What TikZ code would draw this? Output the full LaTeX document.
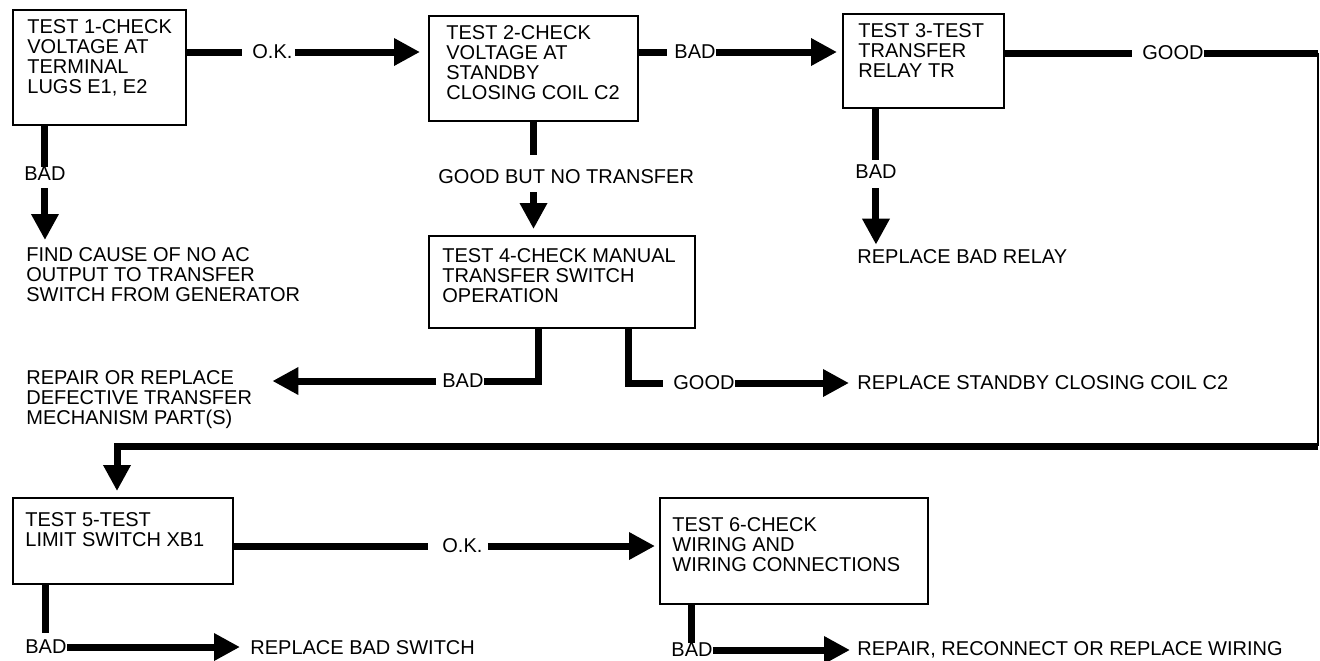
\documentclass[tikz,border=0pt]{standalone}
\usepackage{fontspec}
\setmainfont{Liberation Sans}
\usetikzlibrary{arrows.meta}
\newcommand{\labfont}{\fontsize{10}{10}\selectfont}
\begin{document}
\begin{tikzpicture}[x=0.5pt,y=-0.5pt,
  box/.style={draw, line width=1pt, anchor=north west, inner sep=0pt},
  txt/.style={font=\labfont, inner sep=0pt, align=left, anchor=north west},
  lbl/.style={font=\labfont, inner sep=0pt, text depth=0pt, anchor=west},
  conn/.style={line width=3.5pt},
  arr/.style={line width=3.5pt, -{Triangle[length=13pt,width=13pt]}},
  thinline/.style={line width=1pt}]
\useasboundingbox (0,0) rectangle (1320,660);

% boxes
\node[box, minimum width=86.5pt, minimum height=57.5pt] (b1) at (12,9) {};
\node[box, minimum width=104.5pt, minimum height=52.5pt] (b2) at (428,15) {};
\node[box, minimum width=80.5pt, minimum height=47pt] (b3) at (842,13) {};
\node[box, minimum width=133pt, minimum height=46pt] (b4) at (428,235) {};
\node[box, minimum width=110pt, minimum height=43pt] (b5) at (12,497) {};
\node[box, minimum width=134pt, minimum height=53pt] (b6) at (659,497) {};

% box texts
\node[txt] (t1) at (27,19) {TEST 1-CHECK\\VOLTAGE AT\\TERMINAL\\LUGS E1, E2};
\node[txt] (t2) at (446,25) {TEST 2-CHECK\\VOLTAGE AT\\STANDBY\\CLOSING COIL C2};
\node[txt] (t3) at (858,23) {TEST 3-TEST\\TRANSFER\\RELAY TR};
\node[txt] (t4) at (442,248) {TEST 4-CHECK MANUAL\\TRANSFER SWITCH\\OPERATION};
\node[txt] (t5) at (25,512) {TEST 5-TEST\\LIMIT SWITCH XB1};
\node[txt] (t6) at (672,517) {TEST 6-CHECK\\WIRING AND\\WIRING CONNECTIONS};

% results
\node[txt] (r1) at (26,247) {FIND CAUSE OF NO AC\\OUTPUT TO TRANSFER\\SWITCH FROM GENERATOR};
\node[lbl] (r3) at (857,257) {REPLACE BAD RELAY};
\node[txt] (r4bad) at (26,370) {REPAIR OR REPLACE\\DEFECTIVE TRANSFER\\MECHANISM PART(S)};
\node[lbl] (r4good) at (857,383) {REPLACE STANDBY CLOSING COIL C2};
\node[lbl] (r5) at (250,647) {REPLACE BAD SWITCH};
\node[lbl] (r6) at (857,648) {REPAIR, RECONNECT OR REPLACE WIRING};

% connector labels
\node[lbl] (ok1) at (252,52) {O.K.};
\node[lbl] (bad2) at (674,52) {BAD};
\node[lbl] (good3) at (1142,53) {GOOD};
\node[lbl] (bad1) at (24,174) {BAD};
\node[lbl] (gbnt) at (438,177) {GOOD BUT NO TRANSFER};
\node[lbl] (bad3) at (855,172) {BAD};
\node[lbl] (bad4) at (442,381) {BAD};
\node[lbl] (good4) at (673,383) {GOOD};
\node[lbl] (ok5) at (442,546) {O.K.};
\node[lbl] (bad5) at (25,647) {BAD};
\node[lbl] (bad6) at (671,650) {BAD};

% test 1
\draw[conn] (ok1 -| b1.east) -- ([xshift=-5pt]ok1.west);
\draw[arr] ([xshift=1pt]ok1.east) -- ([xshift=-4pt]ok1 -| b2.west);
\draw[conn] (bad1.north |- b1.south) -- (bad1.north);
\draw[arr] ([yshift=-3.5pt]bad1.south) -- ([yshift=3.5pt]bad1.south |- r1.north);

% test 2
\draw[conn] (bad2 -| b2.east) -- ([xshift=-3.5pt]bad2.west);
\draw[arr] (bad2.east) -- ([xshift=-2.5pt]bad2 -| b3.west);
\draw[conn] (b2.south) -- ([yshift=7.5pt]b2.south |- gbnt.north);
\draw[arr] ([yshift=-4pt]b2.south |- gbnt.south) -- ([yshift=3pt]b2.south |- b4.north);

% test 3
\coordinate (c1) at (1318,53);
\coordinate (c2) at (1318,446);
\coordinate (c3) at (117,446);
\draw[conn] (good3 -| b3.east) -- ([xshift=-5pt]good3.west);
\draw[conn] (good3.east) -- (c1);
\draw[thinline] (c1) -- (c2);
\draw[arr] (c2) -- (c3) -- ([yshift=3pt]c3 |- b5.north);
\draw[conn] (bad3.north |- b3.south) -- ([yshift=2.5pt]bad3.north);
\draw[arr] ([yshift=-4.5pt]bad3.south) -- ([yshift=2.5pt]bad3.south |- r3.north);

% test 4
\coordinate (b4l) at ([xshift=-12pt]b4.south);
\coordinate (b4r) at ([xshift=33pt]b4.south);
\draw[conn] (b4l) -- (b4l |- bad4) -- (bad4.east);
\draw[arr] ([xshift=-3pt]bad4.west) -- ([xshift=10pt]bad4 -| r4bad.east);
\draw[conn] (b4r) -- (b4r |- good4) -- ([xshift=-5pt]good4.west);
\draw[arr] (good4.east) -- ([xshift=-4pt]good4 -| r4good.west);

% test 5
\draw[conn] (b5.east |- ok5) -- ([xshift=-7pt]ok5.west);
\draw[arr] ([xshift=2.5pt]ok5.east) -- ([xshift=-2pt]ok5 -| b6.west);
\draw[conn] (bad5.north |- b5.south) -- ([yshift=3.5pt]bad5.north);
\draw[arr] (bad5.east) -- ([xshift=-5pt]bad5 -| r5.west);

% test 6
\draw[conn] (bad6.north |- b6.south) -- (bad6.north);
\draw[arr] (bad6.east) -- ([xshift=-3.5pt]bad6 -| r6.west);
\end{tikzpicture}
\end{document}
